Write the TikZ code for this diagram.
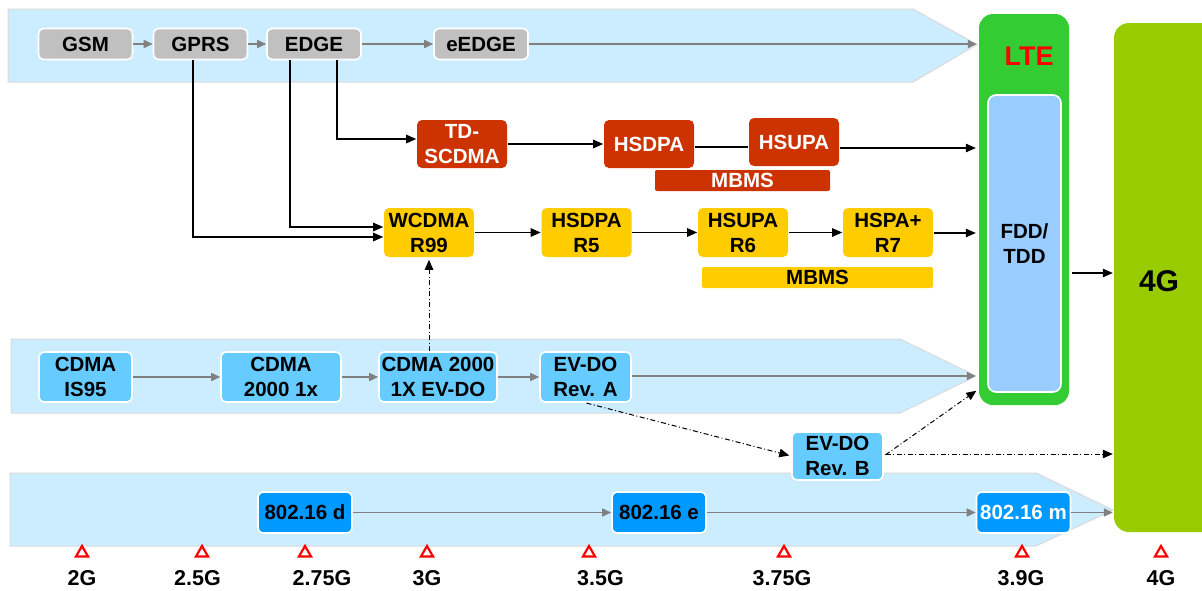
\documentclass[tikz,border=0pt]{standalone}
\usepackage{fontspec}
\setmainfont{Liberation Sans}
\usetikzlibrary{arrows.meta,shapes.geometric}
\definecolor{bandblue}{RGB}{204,236,255}
\definecolor{bandedge}{RGB}{217,217,217}
\definecolor{boxgray}{RGB}{192,192,192}
\definecolor{arrowgray}{RGB}{128,128,128}
\definecolor{redbox}{RGB}{204,51,0}
\definecolor{yellowbox}{RGB}{255,204,0}
\definecolor{cdmablue}{RGB}{102,204,255}
\definecolor{wimax}{RGB}{0,153,255}
\definecolor{ltegreen}{RGB}{51,204,51}
\definecolor{innerblue}{RGB}{153,204,255}
\definecolor{gfourgreen}{RGB}{153,204,0}
\begin{document}
\begin{tikzpicture}[x=1pt,y=-1pt,
  band/.style={fill=bandblue,draw=bandedge,line width=1pt},
  base/.style={rounded corners=5pt,draw=white,line width=1.6pt,inner sep=0pt,align=center,
    font=\fontsize{20.5}{25}\selectfont\bfseries},
  gbox/.style={base,fill=boxgray,minimum width=94pt,minimum height=31pt},
  rbox/.style={base,fill=redbox,draw=none,text=white,minimum width=90pt,minimum height=48pt},
  ybox/.style={base,fill=yellowbox,draw=none,minimum width=90pt,minimum height=49pt},
  cbox/.style={base,fill=cdmablue,minimum height=50pt},
  wbox/.style={base,fill=wimax,minimum width=94pt,minimum height=41pt},
  barbox/.style={base,draw=none,rounded corners=2pt,minimum height=21pt},
  garrow/.style={draw=arrowgray,line width=1.6pt,-{Triangle[length=9pt,width=8pt]}},
  barrow/.style={draw=black,line width=1.1pt,-{Triangle[length=10pt,width=8.5pt]}},
  dd/.style={draw=black,line width=1pt,dash pattern=on 5pt off 2.5pt on 1pt off 2.5pt,
    -{Triangle[length=10pt,width=8.5pt]}},
  tri/.style={regular polygon,regular polygon sides=3,draw=red,fill=white,line width=2.2pt,
    minimum size=14pt,inner sep=0pt},
  glabel/.style={font=\fontsize{21.5}{25}\selectfont\bfseries,anchor=base,inner sep=0pt}
]
\useasboundingbox (0,0) rectangle (1202,590);

% bands
\filldraw[band] (8,9) -- (913,9) -- (977,44.5) -- (913,82) -- (8,82) -- cycle;
\filldraw[band] (11,339) -- (900,339) -- (976,376) -- (900,413) -- (11,413) -- cycle;
\filldraw[band] (10,473) -- (1036,473) -- (1113,510) -- (1036,546) -- (10,546) -- cycle;

% LTE
\node[fill=ltegreen,rounded corners=14pt,minimum width=90pt,minimum height=391pt,inner sep=0pt] (lte) at (1024,209.5) {};
\node[text=red,font=\fontsize{27}{30}\selectfont\bfseries] (ltetxt) at (1029,56) {LTE};
\node[base,fill=innerblue,rounded corners=8pt,minimum width=73pt,minimum height=297pt] (fdd) at (1024.5,243.5) {FDD/\\TDD};

% 4G
\begin{scope}
\clip (0,0) rectangle (1202,590);
\node[fill=gfourgreen,rounded corners=15pt,minimum width=116pt,minimum height=509pt,inner sep=0pt] (g4) at (1172,277.5) {};
\end{scope}
\node[font=\fontsize{30}{34}\selectfont\bfseries] (g4txt) at (1159,281) {4G};

% GSM row
\node[gbox] (gsm) at (85.5,44) {GSM};
\node[gbox] (gprs) at (200.5,44) {GPRS};
\node[gbox] (edge) at (314,44) {EDGE};
\node[gbox] (eedge) at (481,44) {eEDGE};

% TD-SCDMA row
\node[rbox] (td) at (462,144) {TD-\\SCDMA};
\node[rbox] (hsdpar) at (649,144) {HSDPA};
\node[rbox] (hsupar) at (794,142) {HSUPA};
\node[barbox,fill=redbox,text=white,minimum width=175pt] (mbmsr) at (742.5,180.5) {MBMS};

% WCDMA row
\node[ybox] (wcdma) at (429,232.5) {WCDMA\\R99};
\node[ybox] (hsdpay) at (586.5,232.5) {HSDPA\\R5};
\node[ybox] (hsupay) at (743,232.5) {HSUPA\\R6};
\node[ybox] (hspa) at (888,232.5) {HSPA+\\R7};
\node[barbox,fill=yellowbox,minimum width=231pt] (mbmsy) at (817.5,277.5) {MBMS};

% CDMA row
\node[cbox,minimum width=93pt] (is95) at (85.5,377) {CDMA\\IS95};
\node[cbox,minimum width=120pt] (onex) at (281,377) {CDMA\\2000 1x};
\node[cbox,minimum width=118pt] (evdo) at (438,377) {CDMA 2000\\1X EV-DO};
\node[cbox,minimum width=91pt] (reva) at (585.5,377) {EV-DO\\Rev. A};
\node[cbox,minimum width=91pt,minimum height=48pt] (revb) at (837.5,456) {EV-DO\\Rev. B};

% 802.16 row
\node[wbox] (wd) at (305,512.5) {802.16 d};
\node[wbox] (we) at (659,512.5) {802.16 e};
\node[wbox,text=white] (wm) at (1023.5,512.5) {802.16 m};

% gray arrows
\draw[garrow] (gsm) -- (gprs);
\draw[garrow] (gprs) -- (edge);
\draw[garrow] (edge) -- (eedge);
\draw[garrow,shorten >=2pt] (eedge) -- (eedge -| lte.west);
\draw[garrow] (is95) -- (onex);
\draw[garrow] (onex) -- (evdo);
\draw[garrow] (evdo) -- (reva);
\draw[garrow,shorten >=3pt] (reva.east |- 0,376) -- (lte.west |- 0,376);
\draw[garrow] (wd) -- (we);
\draw[garrow] (we) -- (wm);
\draw[garrow,shorten >=1pt] (wm) -- (wm -| g4.west);

% black connectors
\draw[barrow] ([xshift=-7.5pt]gprs.south) |- ([yshift=-4.5pt]wcdma.west);
\draw[barrow] ([xshift=-24pt]edge.south) |- ([yshift=5.5pt]wcdma.west);
\draw[barrow] ([xshift=23pt]edge.south) |- ([yshift=5pt]td.west);
\draw[barrow] (td) -- (hsdpar);
\draw[draw=black,line width=1.1pt] (hsdpar.east |- 0,147) -- (hsupar.west |- 0,147);
\draw[barrow,shorten >=3pt] (hsupar.east |- 0,148) -- (lte.west |- 0,148);
\draw[barrow] (wcdma) -- (hsdpay);
\draw[barrow] (hsdpay) -- (hsupay);
\draw[barrow] (hsupay) -- (hspa);
\draw[barrow,shorten >=3pt] (hspa.east |- 0,233) -- (lte.west |- 0,233);
\draw[barrow,shorten <=3pt,shorten >=1pt] (lte.east |- 0,273) -- (g4.west |- 0,273);

% dash-dot connectors
\draw[dd,shorten >=2pt] (wcdma.south |- evdo.north) -- (wcdma.south);
\draw[dd,shorten <=1pt,shorten >=2pt] (reva.south) -- (revb.west);
\draw[dd,shorten <=2pt,shorten >=3pt] (revb.east) -- (lte.west |- 0,389);
\draw[dd,shorten <=2pt,shorten >=1pt] (revb.east |- 0,454) -- (g4.west |- 0,454);

% generation markers
\node[tri] (t1) at (82,553) {};
\node[tri] (t2) at (202,553) {};
\node[tri] (t3) at (305,553) {};
\node[tri] (t4) at (427,553) {};
\node[tri] (t5) at (589,553) {};
\node[tri] (t6) at (784,553) {};
\node[tri] (t7) at (1022,553) {};
\node[tri] (t8) at (1161,553) {};
\node[glabel] (l1) at (82,585.5) {2G};
\node[glabel] (l2) at (197.5,585.5) {2.5G};
\node[glabel] (l3) at (322,585.5) {2.75G};
\node[glabel] (l4) at (427,585.5) {3G};
\node[glabel] (l5) at (600.5,585.5) {3.5G};
\node[glabel] (l6) at (782,585.5) {3.75G};
\node[glabel] (l7) at (1021,585.5) {3.9G};
\node[glabel] (l8) at (1161,585.5) {4G};
\end{tikzpicture}
\end{document}
